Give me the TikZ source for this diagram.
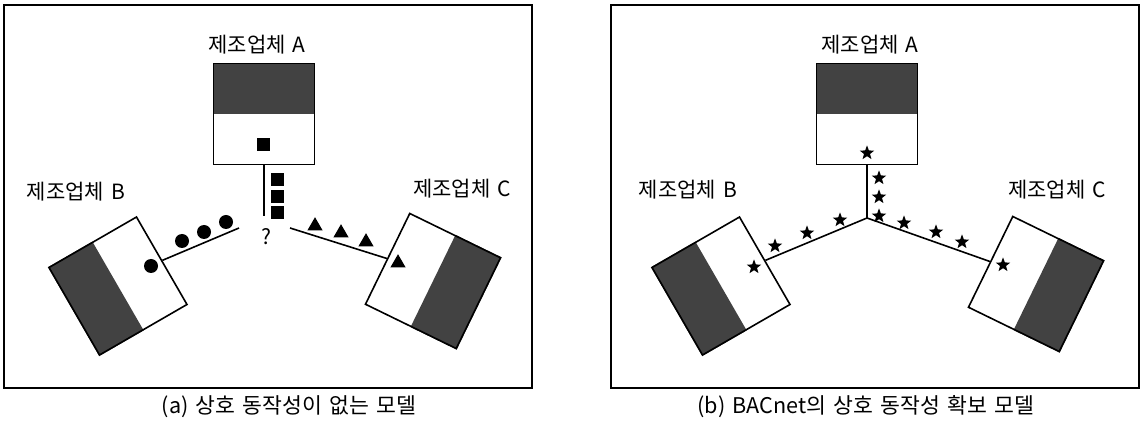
\documentclass[tikz,border=0pt]{standalone}
\usepackage{fontspec}
\setmainfont{Noto Sans CJK KR}[WordSpace=1.5]
\usetikzlibrary{shapes.geometric,backgrounds}
\definecolor{mfgShade}{HTML}{424242}

\begin{document}
\begin{tikzpicture}[x=0.5pt,y=-0.5pt,font=\fontsize{10.5}{12}\selectfont,
    panel/.style={draw,line width=0.6pt,minimum width=264pt,minimum height=191.5pt,inner sep=0pt},
    unit/.style={draw,line width=0.8pt,minimum size=50.5pt,inner sep=0pt},
    shade/.style={fill=mfgShade},
    link/.style={line width=0.8pt},
    caption/.style={font=\fontsize{10.8}{13}\selectfont},
    sq/.style={rectangle,fill=black,inner sep=0pt,minimum size=6.5pt},
    dot/.style={circle,fill=black,inner sep=0pt,minimum size=7pt},
    tri/.style={regular polygon,regular polygon sides=3,fill=black,inner sep=0pt,minimum size=8.8pt},
    bstar/.style={star,star points=5,star point ratio=2.4,fill=black,inner sep=0pt,minimum size=7.6pt}]

  \useasboundingbox (0,0) rectangle (1143,426);

  % panels
  \node[panel] (fa) at (268,196.5) {};
  \node[panel] (fb) at (875,196.5) {};

  % (a) no interoperability
  \node[unit] (ua) at (264,114) {};
  \node[unit,rotate=120] (ub) at (118,286) {};
  \node[unit,rotate=-116] (uc) at (433,281) {};
  \node (la) at (257,45) {제조업체 A};
  \node (lb) at (76,192) {제조업체 B};
  \node (lc) at (462,189) {제조업체 C};

  \coordinate (ea) at (264,216);
  \coordinate (eb) at (239,228);
  \coordinate (ec) at (290,228);
  \draw[link] (ua.south) -- (ea);
  \draw[link] (ub.south) -- (eb);
  \draw[link] (ec) -- (uc.south);
  \node (q) at (266,237) {?};

  \node[sq] (sa) at (263,145) {};
  \node[sq] (s1) at (277,180) {};
  \node[sq] (s2) at (277,197) {};
  \node[sq] (s3) at (277,213) {};
  \node[dot] (db) at (151,266) {};
  \node[dot] (d1) at (182,241) {};
  \node[dot] (d2) at (204,232) {};
  \node[dot] (d3) at (226,222) {};
  \node[tri] (tc) at (398,263) {};
  \node[tri] (t1) at (315,226) {};
  \node[tri] (t2) at (341,233) {};
  \node[tri] (t3) at (366,242) {};

  % (b) BACnet
  \node[unit] (ua2) at (867,114) {};
  \node[unit,rotate=120] (ub2) at (721,286) {};
  \node[unit,rotate=-116] (uc2) at (1036,284) {};
  \node (la2) at (870,45) {제조업체 A};
  \node (lb2) at (688,190) {제조업체 B};
  \node (lc2) at (1057,190) {제조업체 C};

  \coordinate (hub) at (867,218);
  \draw[link] (ua2.south) -- (hub);
  \draw[link] (ub2.south) -- (hub);
  \draw[link] (hub) -- (uc2.south);

  \node[bstar] (ka) at (867,153) {};
  \node[bstar] (kb) at (754,267) {};
  \node[bstar] (kc) at (1003,265) {};
  \node[bstar] (k1) at (879,178) {};
  \node[bstar] (k2) at (879,197) {};
  \node[bstar] (k3) at (879,216) {};
  \node[bstar] (k4) at (840,220) {};
  \node[bstar] (k5) at (807,233) {};
  \node[bstar] (k6) at (775,246) {};
  \node[bstar] (k7) at (904,223) {};
  \node[bstar] (k8) at (936,232) {};
  \node[bstar] (k9) at (962,242) {};

  % dark halves
  \begin{scope}[on background layer]
    \fill[shade] (ua.north west) -- (ua.north east) -- (ua.east) -- (ua.west) -- cycle;
    \fill[shade] (ub.north west) -- (ub.north east) -- (ub.east) -- (ub.west) -- cycle;
    \fill[shade] (uc.north west) -- (uc.north east) -- (uc.east) -- (uc.west) -- cycle;
    \fill[shade] (ua2.north west) -- (ua2.north east) -- (ua2.east) -- (ua2.west) -- cycle;
    \fill[shade] (ub2.north west) -- (ub2.north east) -- (ub2.east) -- (ub2.west) -- cycle;
    \fill[shade] (uc2.north west) -- (uc2.north east) -- (uc2.east) -- (uc2.west) -- cycle;
  \end{scope}

  \node[caption] (ca) at (289,407) {(a) 상호 동작성이 없는 모델};
  \node[caption] (cb) at (866,407) {(b) BACnet의 상호 동작성 확보 모델};
\end{tikzpicture}
\end{document}
